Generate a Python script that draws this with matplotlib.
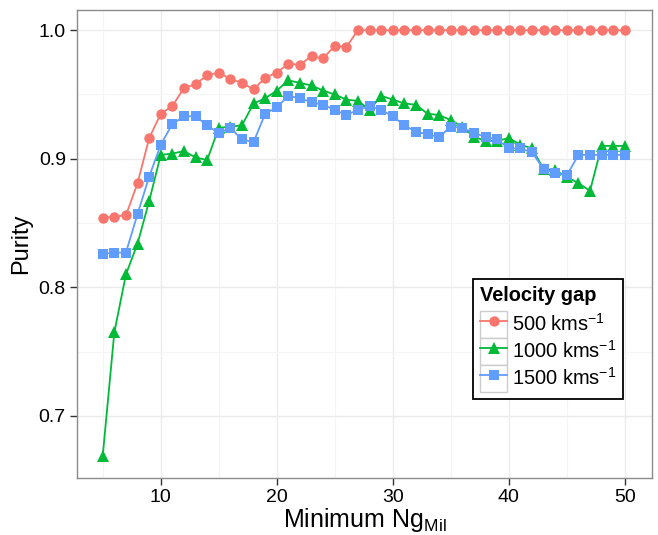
import matplotlib
matplotlib.use('Agg')
import matplotlib.pyplot as plt
from matplotlib.patches import Rectangle
from matplotlib.legend_handler import HandlerLine2D

plt.rcParams['font.family'] = ['Liberation Sans', 'DejaVu Sans']
plt.rcParams['mathtext.fontset'] = 'custom'
plt.rcParams['mathtext.rm'] = 'Liberation Sans'
plt.rcParams['mathtext.it'] = 'Liberation Sans:italic'

# Minimum Ng_Mil
ng_min = list(range(5, 51))

purity_500 = [0.854, 0.855, 0.856, 0.881, 0.916, 0.935, 0.941, 0.955, 0.958, 0.965,
              0.967, 0.962, 0.959, 0.954, 0.963, 0.967, 0.974, 0.973, 0.980, 0.978,
              0.988, 0.987] + [1.0] * 24

purity_1000 = [0.669, 0.765, 0.810, 0.834, 0.867, 0.903, 0.904, 0.906, 0.901, 0.899,
               0.924, 0.925, 0.926, 0.943, 0.947, 0.953, 0.961, 0.959, 0.957, 0.953,
               0.950, 0.946, 0.945, 0.938, 0.949, 0.946, 0.943, 0.942, 0.935, 0.934,
               0.930, 0.925, 0.917, 0.914, 0.914, 0.916, 0.911, 0.908, 0.892, 0.891,
               0.886, 0.881, 0.875, 0.910, 0.910, 0.910]

purity_1500 = [0.826, 0.827, 0.827, 0.857, 0.886, 0.911, 0.927, 0.933, 0.933, 0.926,
               0.920, 0.924, 0.915, 0.913, 0.935, 0.940, 0.949, 0.947, 0.944, 0.942,
               0.938, 0.934, 0.938, 0.941, 0.938, 0.933, 0.926, 0.921, 0.919, 0.917,
               0.925, 0.924, 0.920, 0.917, 0.915, 0.908, 0.908, 0.905, 0.892, 0.889,
               0.887, 0.903, 0.903, 0.903, 0.903, 0.903]

series = [
    ("500 kms$^{-1}$", purity_500, "#F8766D", "o", 7.5),
    ("1000 kms$^{-1}$", purity_1000, "#00BA38", "^", 8.5),
    ("1500 kms$^{-1}$", purity_1500, "#619CFF", "s", 7),
]


class KeyBox(HandlerLine2D):
    # ggplot style key: grey bordered box behind each legend symbol
    def create_artists(self, legend, orig_handle, xdescent, ydescent,
                       width, height, fontsize, trans):
        box = Rectangle((-xdescent, -ydescent), width, height, facecolor='white',
                        edgecolor='#cccccc', linewidth=1, transform=trans)
        arts = super().create_artists(legend, orig_handle, xdescent, ydescent,
                                      width, height, fontsize, trans)
        return [box] + list(arts)


fig = plt.figure(figsize=(6.58, 5.35), dpi=100)
ax = fig.add_axes([0.117, 0.1065, 0.874, 0.8745])

lines = []
for label, vals, col, mk, ms in series:
    ln, = ax.plot(ng_min, vals, color=col, marker=mk, markersize=ms, linewidth=1.3,
                  markeredgewidth=0, label=label, zorder=3)
    lines.append(ln)

ax.set_xlim(2.78, 52.35)
ax.set_ylim(0.6516, 1.0156)
ax.set_xticks([10, 20, 30, 40, 50])
ax.set_yticks([0.7, 0.8, 0.9, 1.0])
ax.set_yticklabels(["0.7", "0.8", "0.9", "1.0"])
ax.set_xticks([5, 15, 25, 35, 45], minor=True)
ax.set_yticks([0.75, 0.85, 0.95], minor=True)
ax.tick_params(axis='both', which='major', labelsize=14, length=5, width=1,
               color='#333333', labelcolor='black', pad=3)
ax.tick_params(axis='both', which='minor', length=0)
ax.grid(which='major', color='#ebebeb', linewidth=1)
ax.grid(which='minor', color='#f5f5f5', linewidth=0.8)
ax.set_axisbelow(True)
for sp in ax.spines.values():
    sp.set_color('#8c8c8c')
    sp.set_linewidth(1)

ax.set_xlabel("Minimum Ng$_{\\mathrm{Mil}}$", fontsize=18, labelpad=0)
ax.set_ylabel("Purity", fontsize=17, labelpad=5)

leg = ax.legend(title="Velocity gap", loc='upper left', bbox_to_anchor=(0.689, 0.425),
                borderaxespad=0, fontsize=14.4,
                title_fontproperties={'weight': 'bold', 'size': 14.4},
                fancybox=False, edgecolor='black', framealpha=1,
                handlelength=1.35, handleheight=1.7, borderpad=0.35,
                labelspacing=0, handletextpad=0.25,
                handler_map={ln: KeyBox() for ln in lines})
leg.get_frame().set_linewidth(1.3)
leg._legend_box.align = 'left'
leg._legend_box.sep = 4.3

fig.savefig("out.png", dpi=100)
